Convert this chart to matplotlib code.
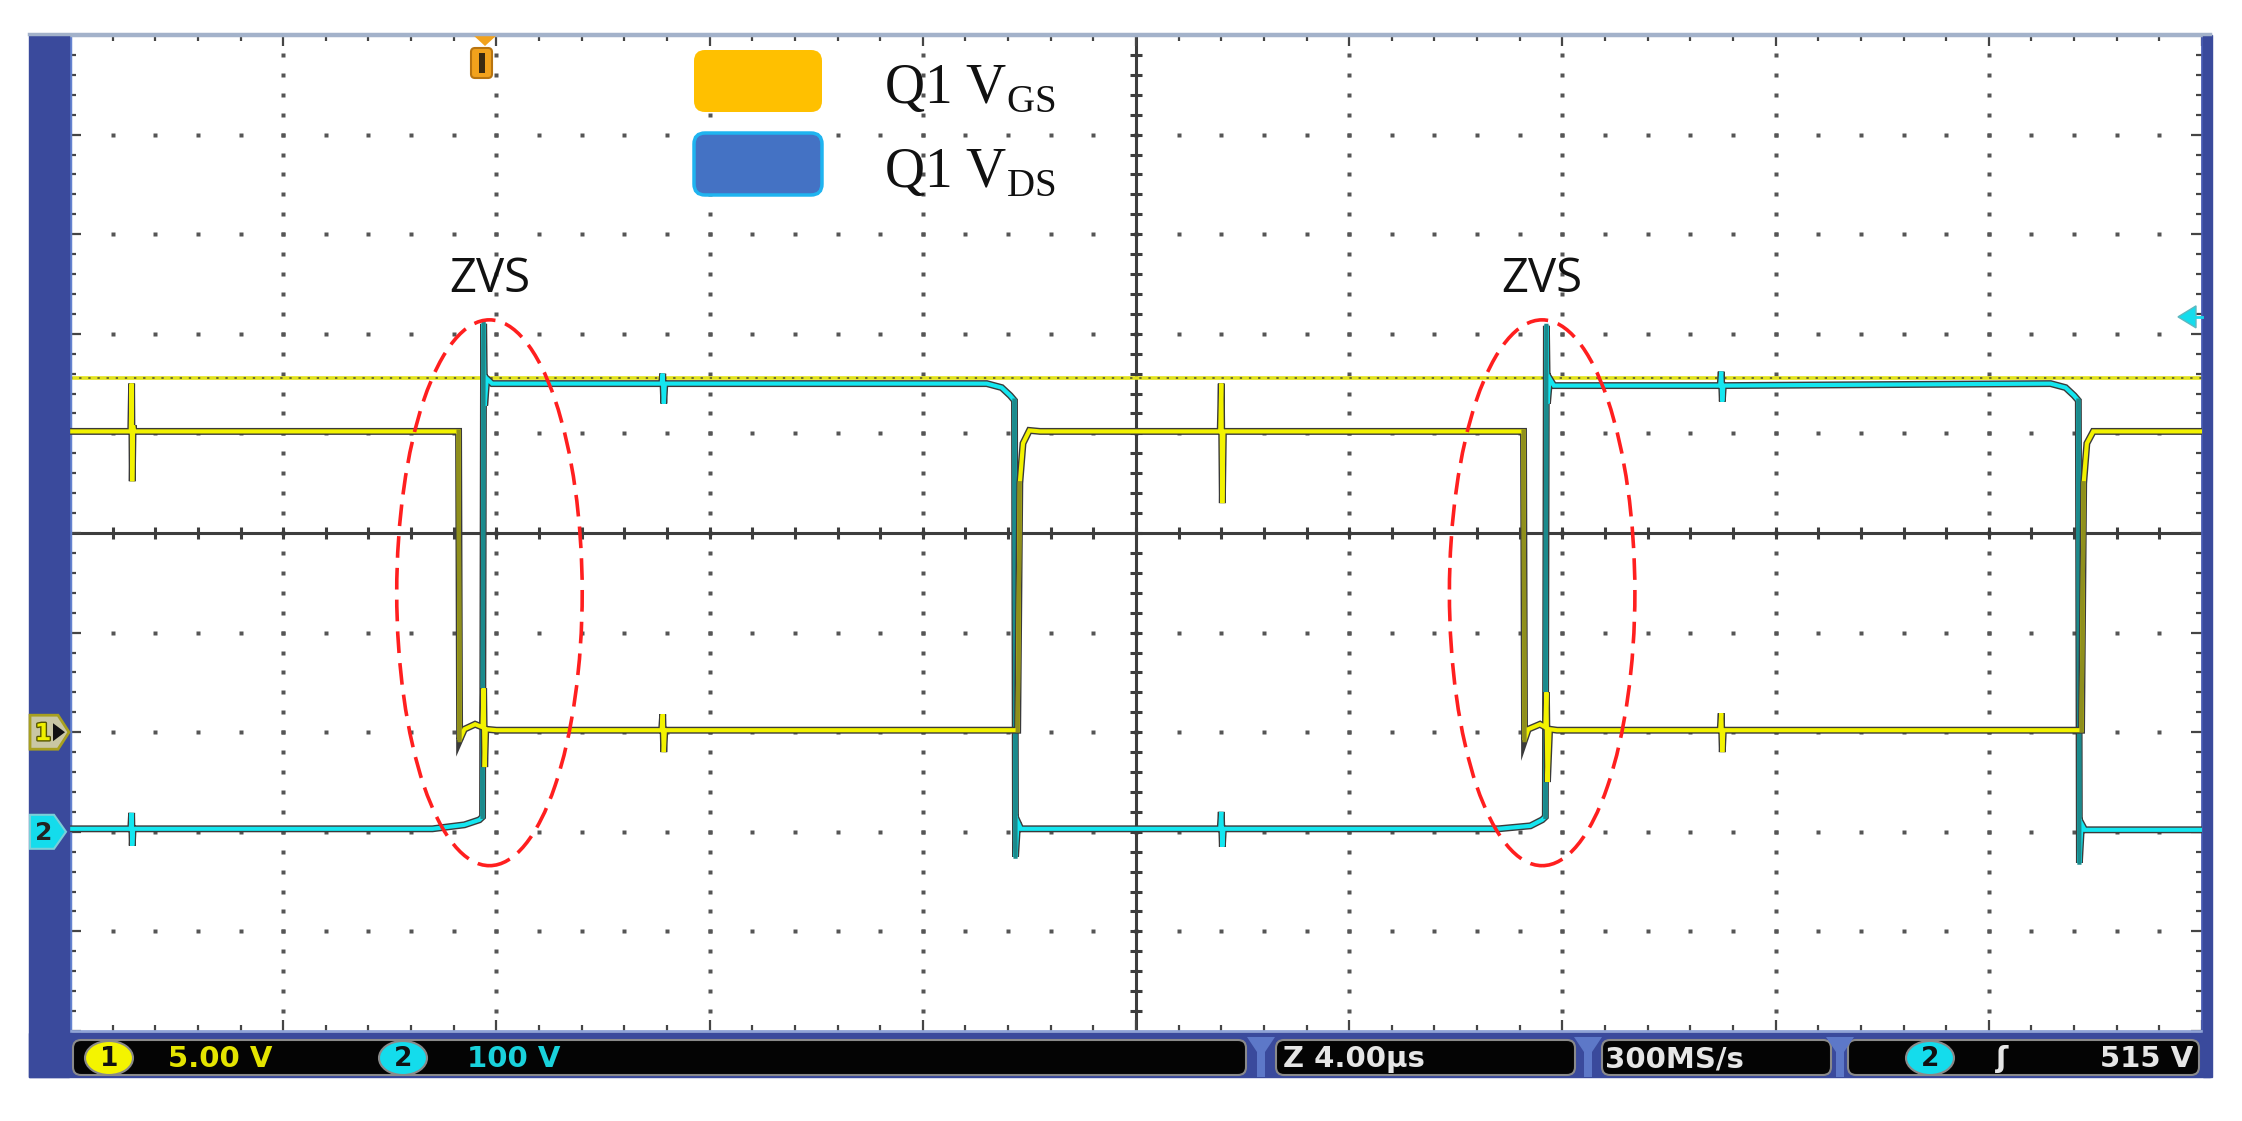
import matplotlib.pyplot as plt
import numpy as np
import matplotlib.patheffects as pe
from matplotlib.patches import Ellipse, Rectangle, FancyBboxPatch, Polygon
from matplotlib.ticker import MultipleLocator

plt.rcParams['mathtext.fontset'] = 'custom'
plt.rcParams['mathtext.rm'] = 'Liberation Serif'

# scope settings
time_per_div = 4.0        # us / div
ch1_volts_per_div = 5.0
ch2_volts_per_div = 100.0
ch1_ground_div = -2.0
ch2_ground_div = -3.0
ch1_ref_v = 17.8          # dotted yellow reference
trig_level_v = 517.0

# Q1 VGS (CH1), time in us, volts
vgs_t = [0.0, 1.14, 1.156, 1.168, 1.184, 1.2, 7.28, 7.29, 7.31, 7.40, 7.60, 7.74,
         7.76, 7.78, 7.80, 8.0, 11.10, 11.12, 11.14, 11.16, 17.78, 17.82, 17.88,
         18.0, 18.2, 21.58, 21.60, 21.62, 21.64, 27.26, 27.27, 27.29, 27.36, 27.58,
         27.68, 27.70, 27.72, 27.76, 27.9, 30.96, 30.98, 31.00, 31.02, 37.74, 37.78,
         37.84, 37.96, 40.0]
vgs_v = [15.1, 15.1, 17.5, 12.6, 15.4, 15.1, 15.1, 15.1, -0.4, 0.15, 0.4, 0.25,
         2.2, -1.75, 0.15, 0.1, 0.1, 0.9, -1.0, 0.1, 0.1, 12.5, 14.5,
         15.15, 15.1, 15.1, 17.5, 11.5, 15.1, 15.1, 15.1, -0.4, 0.15, 0.4,
         0.25, 2.0, -2.5, 0.15, 0.1, 0.1, 0.95, -1.0, 0.1, 0.1, 12.5,
         14.5, 15.1, 15.1]

# Q1 VDS (CH2), time in us, volts
vds_t = [0.0, 1.14, 1.156, 1.168, 1.184, 6.8, 7.4, 7.68, 7.74, 7.76, 7.78, 7.82,
         7.92, 11.10, 11.12, 11.14, 11.16, 17.2, 17.48, 17.64, 17.72, 17.74, 17.78,
         17.84, 21.58, 21.60, 21.62, 21.64, 26.8, 27.4, 27.62, 27.68, 27.70, 27.72,
         27.76, 27.84, 30.96, 30.98, 31.00, 31.02, 37.16, 37.44, 37.60, 37.68, 37.70,
         37.74, 37.80, 40.0]
vds_v = [3, 3, 19, -14, 3, 3, 7, 12, 15, 510, 428, 455,
         450, 450, 460, 430, 450, 450, 446, 438, 433, -25, 10,
         3, 3, 20, -15, 3, 3, 6, 12, 15, 508, 430,
         455, 448, 448, 462, 432, 448, 450, 446, 438, 433, -31,
         8, 2, 2]

legend_labels = [r'Q1 V$_{\mathrm{GS}}$', r'Q1 V$_{\mathrm{DS}}$']
legend_colors = ['#FFC000', '#4472C4']
zvs_times = [7.87, 27.62]   # centre of the ZVS ellipses, us
status_texts = ['5.00 V', '100 V', 'Z 4.00\u03bcs', '300MS/s', '515 V']

W, H = 2242, 1121
fig = plt.figure(figsize=(W / 100, H / 100), dpi=100)
fig.patch.set_facecolor('white')

# plot area in pixels
L, R, T, B = 70, 2202, 35, 1031
ax = fig.add_axes([L / W, 1 - B / H, (R - L) / W, (B - T) / H])
ax.set_xlim(0, 10 * time_per_div)
ax.set_ylim(-5, 5)
ax.set_facecolor('white')

ax.xaxis.set_major_locator(MultipleLocator(time_per_div))
ax.xaxis.set_minor_locator(MultipleLocator(time_per_div / 5))
ax.yaxis.set_major_locator(MultipleLocator(1))
ax.yaxis.set_minor_locator(MultipleLocator(0.2))
ax.tick_params(which='both', direction='in', top=True, right=True,
               labelbottom=False, labelleft=False, color='#454545')
ax.tick_params(which='major', length=8, width=1.6)
ax.tick_params(which='minor', length=4, width=1.6)
ax.spines['top'].set_color('#a3b2ca')
ax.spines['top'].set_linewidth(2.5)
ax.spines['bottom'].set_color('#8fa3d6')
ax.spines['bottom'].set_linewidth(2.0)
ax.spines['left'].set_color('#6482d0')
ax.spines['left'].set_linewidth(2.5)
ax.spines['right'].set_color('#4a5db4')
ax.spines['right'].set_linewidth(2.0)

# dotted graticule
dots = np.arange(1, 50) * 0.2
for k in range(1, 10):
    if k == 5:
        continue
    ax.plot(np.full(49, k * time_per_div), dots - 5, 's', ms=3, color='#555555',
            mec='none', zorder=1)
for k in range(-4, 5):
    if k == 0:
        continue
    ax.plot(dots * time_per_div, np.full(49, k), 's', ms=3, color='#555555',
            mec='none', zorder=1)

# centre cross with ticks
ax.axhline(0, color='#3d3d3d', lw=2.2, zorder=1)
ax.axvline(5 * time_per_div, color='#3d3d3d', lw=2.2, zorder=1)
ax.plot(dots * time_per_div, np.zeros(49), '|', ms=8, mew=2.2, color='#3d3d3d', zorder=1)
ax.plot(np.full(49, 5 * time_per_div), dots - 5, '_', ms=8, mew=2.2, color='#3d3d3d', zorder=1)

# reference level of CH1 (dotted yellow)
ref_div = ch1_ref_v / ch1_volts_per_div + ch1_ground_div
ax.axhline(ref_div, color='#e2e21a', lw=2.6, zorder=2)
ax.axhline(ref_div, color='#6a6a30', lw=1.4, ls=(0, (1.2, 3.5)), zorder=2)


def draw_trace(t, v, vpd, gnd, color, edge_color, z):
    t = np.asarray(t, float)
    d = np.asarray(v, float) / vpd + gnd
    ax.plot(t, d, color=color, lw=3.0, zorder=z, solid_joinstyle='miter',
            path_effects=[pe.Stroke(linewidth=5.0, foreground='#3a3a3a'), pe.Normal()])
    # steep edges are drawn dimmer, like the scope does
    for i in range(len(t) - 1):
        if abs(d[i + 1] - d[i]) > 1.5 and (t[i + 1] - t[i]) < 0.1:
            ax.plot(t[i:i + 2], d[i:i + 2], color=edge_color, lw=3.0, zorder=z + 0.1)


draw_trace(vds_t, vds_v, ch2_volts_per_div, ch2_ground_div, '#14e6f0', '#1b8a8c', 3)
draw_trace(vgs_t, vgs_v, ch1_volts_per_div, ch1_ground_div, '#f2f200', '#8f8f1c', 4)

# ZVS ellipses
for tc in zvs_times:
    ax.add_patch(Ellipse((tc, -0.60), 0.87 * time_per_div, 5.48, fill=False,
                         ec='#ff1f1f', lw=2.6, ls=(0, (6, 2.8)), zorder=6))

# ---------- overlay in pixel coordinates ----------
ov = fig.add_axes([0, 0, 1, 1], zorder=5)
ov.set_xlim(0, W)
ov.set_ylim(H, 0)
ov.axis('off')

blue = '#3a4a9c'
ov.add_patch(Rectangle((29, T), L - 29 - 1, 1077 - T, color=blue))
ov.add_patch(Rectangle((R + 1, T), 9, 1077 - T, color=blue))
ov.add_patch(Rectangle((29, B + 2), 2210 - 29, 1077 - B - 2, color=blue))
ov.plot([29, 2210], [T - 1, T - 1], color='#a3b2ca', lw=2.5)

# status bar boxes
for x0, x1 in [(73, 1246), (1276, 1575), (1602, 1831), (1848, 2199)]:
    ov.add_patch(FancyBboxPatch((x0, 1040), x1 - x0, 35,
                                boxstyle='round,pad=0,rounding_size=8',
                                fc='#040404', ec='#8a8a8a', lw=1.5))
for gx in [1261, 1588, 1840]:
    ov.add_patch(Polygon([[gx - 14, 1037], [gx + 14, 1037], [gx + 4, 1052], [gx + 4, 1077],
                          [gx - 4, 1077], [gx - 4, 1052]], closed=True, fc='#5d78c8', ec='none'))

for cx, col, lab in [(109, '#f4f400', '1'), (403, '#14dcec', '2'), (1930, '#14dcec', '2')]:
    ov.add_patch(Ellipse((cx, 1058), 48, 34, fc=col, ec='#8a8a8a', lw=1.5))
    ov.text(cx, 1059, lab, ha='center', va='center', fontsize=19, fontweight='bold',
            color='#111111', family='DejaVu Sans')

sfont = dict(va='center', fontsize=21, fontweight='bold',
             family=['Liberation Sans Narrow', 'DejaVu Sans'])
ov.text(168, 1059, status_texts[0], ha='left', color='#e4e400', **sfont)
ov.text(467, 1059, status_texts[1], ha='left', color='#19d2dc', **sfont)
ov.text(1283, 1059, status_texts[2], ha='left', color='#e6e6e6', **sfont)
ov.text(1605, 1059, status_texts[3], ha='left', color='#e6e6e6', **sfont)
ov.text(2002, 1059, '\u0283', ha='center', color='#e6e6e6', **sfont)
ov.text(2193, 1059, status_texts[4], ha='right', color='#e6e6e6', **sfont)

# channel ground markers on the left
y1 = T + (5 - ch1_ground_div) * (B - T) / 10
y2 = T + (5 - ch2_ground_div) * (B - T) / 10
ov.add_patch(Polygon([[30, y1 - 17], [58, y1 - 17], [69, y1], [58, y1 + 17], [30, y1 + 17]],
                     closed=True, fc='#c9c7a4', ec='#a8a020', lw=2))
ov.text(43, y1 + 1, '1', ha='center', va='center', fontsize=17, fontweight='bold',
        color='#f0f000', path_effects=[pe.withStroke(linewidth=2, foreground='#555500')])
ov.add_patch(Polygon([[53, y1 - 9], [53, y1 + 9], [65, y1]], closed=True, fc='#111111'))
ov.add_patch(Polygon([[30, y2 - 17], [54, y2 - 17], [66, y2], [54, y2 + 17], [30, y2 + 17]],
                     closed=True, fc='#14dcec', ec='#7acfd8', lw=1.5))
ov.text(44, y2 + 1, '2', ha='center', va='center', fontsize=18, fontweight='bold',
        color='#222222')

# trigger level arrow on the right
yt = T + (5 - (trig_level_v / ch2_volts_per_div + ch2_ground_div)) * (B - T) / 10
ov.add_patch(Polygon([[2178, yt], [2196, yt - 11], [2196, yt + 11]], closed=True,
                     fc='#14dcec', ec='#5fb8c0', lw=1))
ov.plot([2196, R], [yt, yt], color='#14dcec', lw=2)

# trigger position marker on top
ov.add_patch(Polygon([[473, 35], [497, 35], [485, 46]], closed=True, fc='#f2a21c'))
ov.add_patch(FancyBboxPatch((471, 48), 21, 30, boxstyle='round,pad=0,rounding_size=4',
                            fc='#f2a21c', ec='#b87410', lw=1.5))
ov.add_patch(Rectangle((479, 53), 6, 20, fc='#3a2a10'))

# legend
for i, (lab, col) in enumerate(zip(legend_labels, legend_colors)):
    y0 = 50 + i * 83
    ec = '#1fb4f0' if i == 1 else 'none'
    ov.add_patch(FancyBboxPatch((694, y0), 128, 62, boxstyle='round,pad=0,rounding_size=11',
                                fc=col, ec=ec, lw=2.5))
    ov.text(884, 103 + i * 84, lab, ha='left', va='baseline', fontsize=40,
            family='Liberation Serif', color='#111111')

# ZVS labels
for tc in zvs_times:
    px = L + tc / (10 * time_per_div) * (R - L)
    ov.text(px, 292, 'ZVS', ha='center', va='baseline', fontsize=34,
            family='Open Sans', color='#111111')

fig.savefig('out.png', dpi=100)
